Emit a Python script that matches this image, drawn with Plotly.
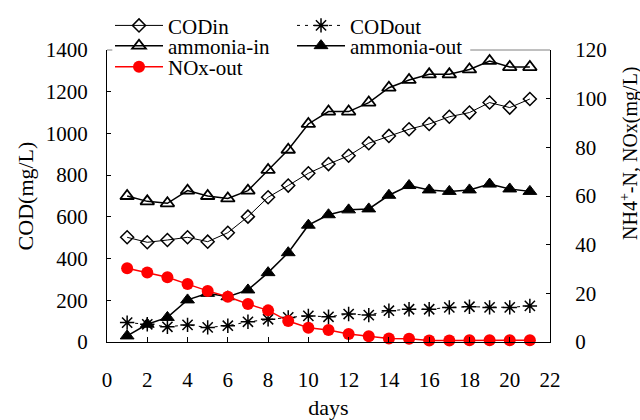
import plotly.graph_objects as go

# Reactor performance over the operating period
days = list(range(1, 22))

cod_in = [502, 478, 489, 502, 481, 524, 601, 694, 750, 809, 853, 893,
          953, 988, 1020, 1045, 1080, 1100, 1148, 1124, 1165]
cod_out = [93, 85, 73, 82, 70, 78, 97, 109, 118, 125, 121, 134,
           129, 150, 157, 157, 166, 169, 166, 166, 173]
ammonia_in = [60, 57.8, 57, 62.2, 60, 59, 62.2, 70.7, 79, 89.6, 94.7, 94.7,
              98.4, 104.5, 107.7, 110, 110, 112, 115.5, 113, 113]
ammonia_out = [2.5, 7.3, 10.1, 17.3, 20, 18.6, 21.4, 28.5, 36.7, 48, 52.3, 54.3,
               54.7, 60.3, 64.3, 62.5, 61.9, 62.5, 64.9, 62.9, 61.9]
nox_out = [30.3, 28.6, 26.6, 23.8, 21.0, 18.6, 15.6, 13.0, 8.6, 5.9, 4.9, 3.3,
           2.4, 1.4, 1.3, 0.6, 0.6, 0.7, 0.7, 0.7, 0.7]

x_ticks = list(range(0, 23, 2))
cod_ticks = list(range(0, 1401, 200))
n_ticks = list(range(0, 121, 20))

FONT = "Liberation Serif, Times New Roman, serif"
BLACK = "#000000"
RED = "#ff0000"

fig = go.Figure()

fig.add_trace(go.Scatter(
    x=days, y=cod_in, name="CODin", mode="lines+markers", cliponaxis=False,
    line=dict(color=BLACK, width=1),
    marker=dict(symbol="diamond-open", size=10, color=BLACK, line=dict(width=1.5, color=BLACK)),
    legend="legend",
))
fig.add_trace(go.Scatter(
    x=days, y=cod_out, name="CODout", mode="lines+markers", cliponaxis=False,
    line=dict(color=BLACK, width=1, dash="3px,5px"),
    marker=dict(symbol="asterisk-open", size=12, color=BLACK, line=dict(width=1.5, color=BLACK)),
    legend="legend",
))
fig.add_trace(go.Scatter(
    x=days, y=ammonia_in, name="ammonia-in", mode="lines+markers", yaxis="y2", cliponaxis=False,
    line=dict(color=BLACK, width=1.5),
    marker=dict(symbol="triangle-up-open", size=12, color=BLACK, line=dict(width=1.8, color=BLACK)),
    legend="legend2",
))
fig.add_trace(go.Scatter(
    x=days, y=ammonia_out, name="ammonia-out", mode="lines+markers", yaxis="y2", cliponaxis=False,
    line=dict(color=BLACK, width=1.5),
    marker=dict(symbol="triangle-up", size=12, color=BLACK, line=dict(width=1, color=BLACK)),
    legend="legend2",
))
fig.add_trace(go.Scatter(
    x=days, y=nox_out, name="NOx-out", mode="lines+markers", yaxis="y2", cliponaxis=False,
    line=dict(color=RED, width=1.5),
    marker=dict(symbol="circle", size=12, color=RED, line=dict(width=0, color=RED)),
    legend="legend3",
))

legend_common = dict(
    orientation="h", x=0.0068, xanchor="left", yanchor="middle",
    borderwidth=0, itemwidth=48, bgcolor="rgba(0,0,0,0)",
    entrywidth=119, entrywidthmode="pixels",
    font=dict(family=FONT, size=21, color=BLACK),
)

# gray top frame, interrupted where the legend sits
top_frame = [
    dict(type="line", xref="paper", yref="paper", x0=x0, x1=x1, y0=1, y1=1,
         line=dict(color="#808080", width=1))
    for x0, x1 in [(0, 0.012), (0.82, 1)]
]

fig.update_layout(
    width=640, height=420,
    margin=dict(l=107, r=90, t=50, b=78, autoexpand=False),
    paper_bgcolor="white", plot_bgcolor="white",
    font=dict(family=FONT, size=21, color=BLACK),
    showlegend=True,
    legend=dict(y=1.083, **legend_common),
    legend2=dict(y=1.0137, **legend_common),
    legend3=dict(y=0.9418, **legend_common),
    xaxis=dict(
        range=[0, 22], tickvals=x_ticks, ticks="inside", ticklen=5, tickcolor=BLACK,
        showline=True, linecolor=BLACK, linewidth=1, showgrid=False, zeroline=False,
        ticklabelstandoff=19, tickfont=dict(size=21), automargin=False,
        title=dict(text="days", font=dict(size=22), standoff=22),
    ),
    yaxis=dict(
        range=[0, 1400], tickvals=cod_ticks, ticks="inside", ticklen=4, tickcolor=BLACK,
        showline=True, linecolor=BLACK, linewidth=1, showgrid=False, zeroline=False,
        ticklabelstandoff=14, tickfont=dict(size=21), automargin=False,
        title=dict(text="COD(mg/L)", font=dict(size=22), standoff=6),
    ),
    yaxis2=dict(
        range=[0, 120], tickvals=n_ticks, ticks="inside", ticklen=4, tickcolor=BLACK,
        overlaying="y", side="right", automargin=False,
        showline=True, linecolor=BLACK, linewidth=1, showgrid=False, zeroline=False,
        ticklabelstandoff=20, tickfont=dict(size=21),
    ),
    shapes=top_frame,
    annotations=[dict(
        text="NH4<sup>+</sup>-N, NOx(mg/L)", textangle=-90,
        xref="paper", yref="paper", x=1.178, y=0.647,
        xanchor="center", yanchor="middle", showarrow=False,
        font=dict(family=FONT, size=20, color=BLACK),
    )],
)

fig.write_html("out.html")
